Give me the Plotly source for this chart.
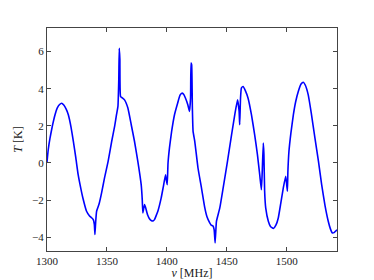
import plotly.graph_objects as go

# frequency (MHz) and temperature (K)
nu = [1300.0, 1301.0, 1302.5, 1304.5, 1306.7, 1308.5, 1310.5, 1312.2, 1314.0, 1316.0,
      1317.8, 1320.0, 1322.0, 1324.0, 1326.0, 1328.0, 1330.0, 1333.0, 1335.5, 1337.2,
      1338.6, 1339.5, 1340.0, 1340.6, 1341.4, 1343.5, 1345.6, 1348.0, 1351.0, 1354.0,
      1356.5, 1358.0, 1359.2, 1359.9, 1360.3, 1360.8, 1361.4, 1363.0, 1364.7, 1367.5,
      1370.3, 1373.0, 1375.8, 1378.6, 1379.5, 1380.0, 1381.4, 1382.5, 1384.0, 1385.5,
      1387.0, 1388.5, 1389.7, 1391.0, 1392.5, 1395.3, 1397.0, 1398.9, 1399.5, 1400.3,
      1401.0, 1402.2, 1404.0, 1406.4, 1409.0, 1411.0, 1412.5, 1414.0, 1415.5, 1417.5,
      1418.9, 1419.8, 1420.2, 1420.7, 1421.3, 1421.9, 1423.3, 1426.0, 1428.9, 1431.7,
      1433.5, 1435.8, 1437.0, 1438.6, 1439.5, 1440.3, 1441.0, 1441.4, 1444.2, 1447.0,
      1450.6, 1454.0, 1456.7, 1459.0, 1460.3, 1460.8, 1461.5, 1462.2, 1463.6, 1465.5,
      1467.8, 1470.6, 1473.3, 1475.6, 1477.5, 1478.9, 1479.6, 1480.5, 1481.0, 1481.6,
      1482.5, 1484.7, 1486.5, 1488.9, 1491.0, 1493.0, 1495.0, 1497.2, 1499.2, 1500.6,
      1501.0, 1501.9, 1503.5, 1505.6, 1507.5, 1509.7, 1512.0, 1513.9, 1515.5, 1518.0,
      1520.5, 1523.6, 1526.5, 1529.2, 1532.0, 1534.7, 1536.5, 1538.0, 1539.5, 1540.8,
      1542.0]
temp = [0.05, 0.7, 1.34, 2.0, 2.6, 2.95, 3.15, 3.22, 3.12, 2.9,
        2.6, 1.95, 1.17, 0.3, -0.63, -1.3, -1.9, -2.6, -2.85, -2.95,
        -3.05, -3.3, -3.85, -3.2, -2.6, -2.2, -1.6, -0.8, 0.09, 1.17,
        2.0, 2.6, 3.05, 4.5, 6.18, 5.6, 3.58, 3.5, 3.4, 2.96,
        2.06, 1.17, 0.09, -1.17, -2.0, -2.69, -2.24, -2.45, -2.8, -3.0,
        -3.1, -3.12, -3.05, -2.85, -2.6, -1.88, -1.3, -0.63, -0.9, -1.17,
        0.0, 0.81, 1.7, 2.6, 3.22, 3.65, 3.76, 3.7, 3.5, 3.14,
        2.78, 3.5, 5.38, 5.3, 3.0, 1.7, 1.17, -0.27, -1.34, -2.42,
        -2.9, -3.23, -3.35, -3.4, -3.6, -4.3, -3.5, -3.14, -2.42, -1.34,
        0.09, 1.52, 2.6, 3.4, 2.8, 2.06, 3.5, 4.03, 4.12, 3.9,
        3.49, 2.6, 1.52, 0.45, -0.63, -1.44, -0.5, 1.07, 0.5, -1.5,
        -2.42, -3.14, -3.42, -3.53, -3.35, -2.96, -2.2, -1.34, -0.72, -1.52,
        -0.5, 0.63, 1.6, 2.6, 3.3, 3.85, 4.25, 4.35, 4.2, 3.67,
        2.7, 1.34, 0.1, -1.17, -2.3, -3.14, -3.55, -3.76, -3.75, -3.67,
        -3.6]

x_ticks = [1300, 1350, 1400, 1450, 1500]
y_ticks = [-4, -2, 0, 2, 4, 6]

fig = go.Figure()
fig.add_trace(go.Scatter(x=nu, y=temp, mode="lines",
                         line=dict(color="#0000ff", width=1.6, shape="spline", smoothing=0.4),
                         showlegend=False))

axis_style = dict(showgrid=False, zeroline=False, showline=True, linecolor="#444",
                  linewidth=1, mirror="ticks", ticks="inside", ticklen=4,
                  tickcolor="#444", automargin=False,
                  tickfont=dict(family="Liberation Serif", size=11, color="#222"))

fig.update_xaxes(range=[1300, 1542], tickvals=x_ticks, **axis_style,
                 title=dict(text="<i>ν</i> [MHz]", standoff=2,
                            font=dict(family="Liberation Serif", size=12, color="#222")))
fig.update_yaxes(range=[-4.74, 7.27], tickvals=y_ticks, **axis_style,
                 title=dict(text="<i>T</i> [K]", standoff=6,
                            font=dict(family="Liberation Serif", size=12, color="#222")))

fig.update_layout(width=374, height=280, margin=dict(l=47, r=37, t=28, b=29),
                  plot_bgcolor="white", paper_bgcolor="white")
fig.write_html("out.html", config={"displayModeBar": False},
               post_script="document.body.style.margin='0';document.body.style.overflow='hidden';")
